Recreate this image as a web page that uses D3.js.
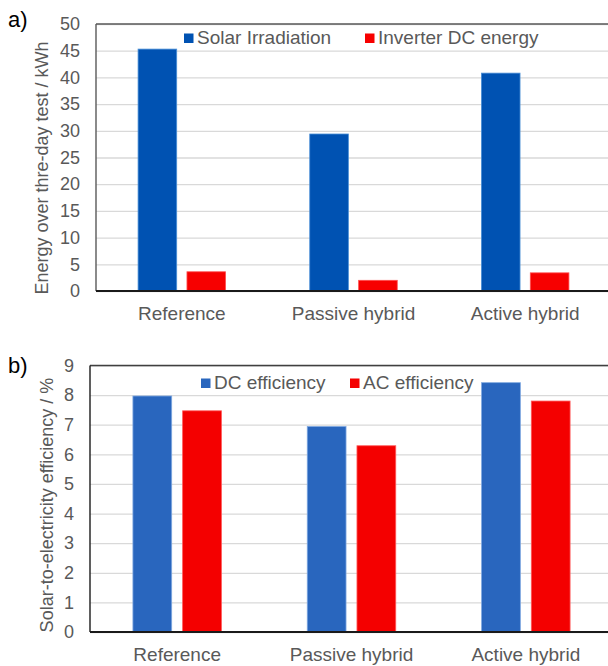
<!DOCTYPE html>
<html>
<head>
<meta charset="utf-8">
<script src="https://cdn.jsdelivr.net/npm/d3@7"></script>
<style>
  html, body { margin: 0; padding: 0; background: #fff; }
  svg { display: block; font-family: "Liberation Sans", Arial, sans-serif; }
</style>
</head>
<body>
<svg id="fig" width="608" height="666"></svg>
<script>
// Test configurations shared by both panels
const categories = ["Reference", "Passive hybrid", "Active hybrid"];

// Panel a) energy over the three-day test (kWh)
const energySeries = ["Solar Irradiation", "Inverter DC energy"];
const solarIrradiation = [45.3, 29.4, 40.8];
const inverterDCEnergy = [3.6, 2.0, 3.4];
const energyTicks = [0, 5, 10, 15, 20, 25, 30, 35, 40, 45, 50];

// Panel b) solar-to-electricity efficiency (%)
const effSeries = ["DC efficiency", "AC efficiency"];
const dcEfficiency = [7.97, 6.94, 8.42];
const acEfficiency = [7.47, 6.29, 7.80];
const effTicks = [0, 1, 2, 3, 4, 5, 6, 7, 8, 9];

const svg = d3.select("#fig");
const textColor = "#595959";
const tickFont = 18;
const labelFont = 19;
const fontFamily = "'Liberation Sans', Arial, sans-serif";

function drawPanel(cfg) {
  const g = svg.append("g");
  const x = d3.scaleBand().domain(categories).range([cfg.left, cfg.right]).padding(0);
  const xs = d3.scaleBand().domain(cfg.series).range([0, cfg.groupWidth]).paddingInner(cfg.innerPad);
  const y = d3.scaleLinear().domain([0, cfg.max]).range([cfg.bottom, cfg.top]);

  // horizontal gridlines + tick labels
  const yAxis = d3.axisLeft(y).tickValues(cfg.ticks).tickSizeInner(-(cfg.right - cfg.left))
    .tickSizeOuter(0).tickPadding(16).tickFormat(d3.format("d"));
  const ya = g.append("g").attr("transform", `translate(${cfg.left},0)`).call(yAxis);
  ya.select(".domain").remove();
  ya.selectAll(".tick line").attr("stroke", "#d9d9d9").attr("stroke-width", 1.3);
  ya.selectAll(".tick text").attr("fill", textColor).style("font-size", tickFont + "px")
    .style("font-family", fontFamily);

  // bars
  const rows = categories.map((c, i) => ({ c, vals: cfg.values.map(v => v[i]) }));
  const grp = g.append("g").selectAll("g").data(rows).join("g")
    .attr("transform", d => `translate(${x(d.c) + (x.bandwidth() - cfg.groupWidth) / 2},0)`);
  grp.selectAll("rect").data(d => d.vals.map((v, k) => ({ k, v }))).join("rect")
    .attr("x", d => xs(cfg.series[d.k]))
    .attr("width", xs.bandwidth())
    .attr("y", d => y(d.v))
    .attr("height", d => y(0) - y(d.v))
    .attr("fill", d => cfg.colors[d.k])
    .attr("stroke", d => cfg.edges[d.k])
    .attr("stroke-width", 0.8);

  // plot frame
  g.append("line").attr("x1", cfg.left).attr("x2", cfg.right + 2).attr("y1", cfg.top).attr("y2", cfg.top)
    .attr("stroke", cfg.frameTop).attr("stroke-width", 1.6);
  g.append("line").attr("x1", cfg.left).attr("x2", cfg.left).attr("y1", cfg.top).attr("y2", cfg.bottom)
    .attr("stroke", cfg.frameLeft).attr("stroke-width", 1.4);

  // category axis
  const xAxis = d3.axisBottom(x).tickSize(0).tickPadding(16);
  const xa = g.append("g").attr("transform", `translate(0,${cfg.bottom})`).call(xAxis);
  xa.select(".domain").attr("stroke", "#1a1a1a").attr("stroke-width", 1.8)
    .attr("d", `M${cfg.left},0H${cfg.right + 2}`);
  xa.selectAll(".tick text").attr("fill", textColor).style("font-size", labelFont + "px")
    .style("font-family", fontFamily);

  // axis title
  g.append("text")
    .attr("transform", `translate(${cfg.titleX},${cfg.titleY}) rotate(-90)`)
    .attr("text-anchor", "middle").attr("fill", textColor).style("font-size", tickFont + "px")
    .text(cfg.title);

  // legend
  cfg.series.forEach((s, k) => {
    g.append("rect").attr("x", cfg.legendX[k]).attr("y", cfg.legendY - 10.5)
      .attr("width", 9.5).attr("height", 9.5).attr("fill", cfg.colors[k]);
    g.append("text").attr("x", cfg.legendX[k] + 13).attr("y", cfg.legendY)
      .attr("fill", textColor).style("font-size", labelFont + "px").text(s);
  });

  // panel letter
  g.append("text").attr("x", 8).attr("y", cfg.letterY).attr("fill", "#000")
    .style("font-size", "22px").text(cfg.letter);
}

drawPanel({
  letter: "a)", letterY: 27,
  left: 96, right: 611, top: 24, bottom: 291, max: 50, ticks: energyTicks,
  series: energySeries, values: [solarIrradiation, inverterDCEnergy],
  colors: ["#0052b2", "#f70000"], edges: ["#4a8fd6", "#ff5050"],
  groupWidth: 87.5, innerPad: 0.21,
  title: "Energy over thre-day test / kWh", titleX: 48, titleY: 168,
  legendX: [184, 365], legendY: 44,
  frameTop: "#595959", frameLeft: "#595959"
});

drawPanel({
  letter: "b)", letterY: 373,
  left: 90, right: 613, top: 365.5, bottom: 632, max: 9, ticks: effTicks,
  series: effSeries, values: [dcEfficiency, acEfficiency],
  colors: ["#2966be", "#f40000"], edges: ["#7fa8e0", "#ff5a5a"],
  groupWidth: 88.5, innerPad: 0.22,
  title: "Solar-to-electricity efficiency / %", titleX: 53, titleY: 505,
  legendX: [201, 350], legendY: 389,
  frameTop: "#404040", frameLeft: "#1a1a1a"
});
</script>
</body>
</html>
